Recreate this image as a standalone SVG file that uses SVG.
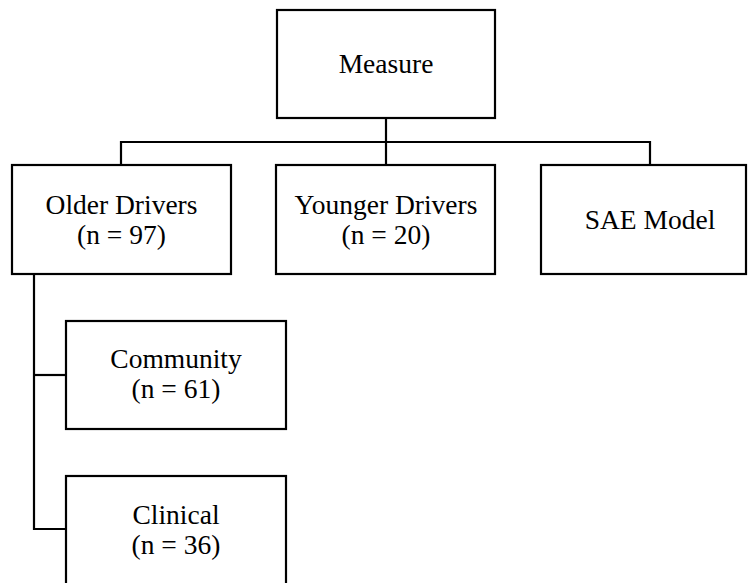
<svg xmlns="http://www.w3.org/2000/svg" width="748" height="583" viewBox="0 0 748 583">
<style>
.box{fill:#fff;stroke:#000;stroke-width:2.2}
.ln{fill:none;stroke:#000;stroke-width:2.2}
text{font-family:"Liberation Serif","Times New Roman",serif;font-size:27.5px;fill:#000;text-anchor:middle}
</style>
<rect width="748" height="583" fill="#fff"/>
<g id="connectors">
<path class="ln" d="M386,118 V165"/>
<path class="ln" d="M121,165 V142 H650 V165"/>
<path class="ln" d="M34,274 V529 H66"/>
<path class="ln" d="M34,375 H66"/>
</g>
<g id="measure">
<rect class="box" x="277" y="10" width="218" height="108"/>
<text x="386" y="73">Measure</text>
</g>
<g id="older">
<rect class="box" x="12" y="165" width="219" height="109"/>
<text x="121.5" y="214">Older Drivers</text>
<text x="121.5" y="244">(n = 97)</text>
</g>
<g id="younger">
<rect class="box" x="276" y="165" width="219" height="109"/>
<text x="386" y="214">Younger Drivers</text>
<text x="386" y="244">(n = 20)</text>
</g>
<g id="sae">
<rect class="box" x="541" y="165" width="205" height="109"/>
<text x="650" y="229">SAE Model</text>
</g>
<g id="community">
<rect class="box" x="66" y="321" width="220" height="108"/>
<text x="176" y="368">Community</text>
<text x="176" y="398">(n = 61)</text>
</g>
<g id="clinical">
<rect class="box" x="66" y="476" width="220" height="120"/>
<text x="176" y="524">Clinical</text>
<text x="176" y="554">(n = 36)</text>
</g>
</svg>
